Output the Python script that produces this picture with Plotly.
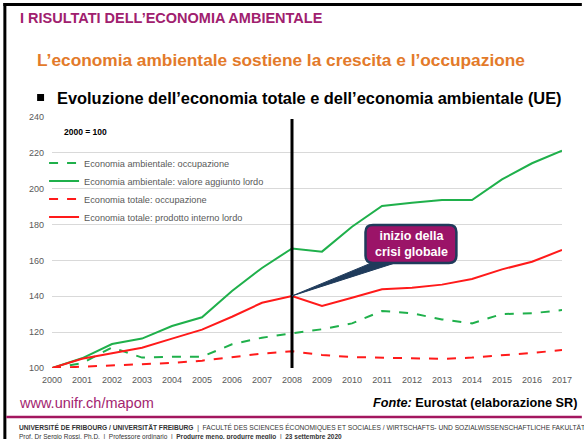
import plotly.graph_objects as go

years = list(range(2000, 2018))
amb_occ = [100, 102.6, 111.5, 105.8, 106.3, 106.3, 113.2, 116.9, 119.3, 121.6, 124.9, 131.8, 130.5, 127.1, 124.9, 130.1, 130.5, 132.3]
amb_val = [100, 105.4, 113.4, 116.4, 123.4, 128.3, 143.0, 155.8, 166.7, 164.9, 178.8, 190.4, 192.2, 193.7, 193.7, 205.2, 214.2, 221.2]
tot_occ = [100, 100.7, 101.3, 102.0, 102.8, 104.1, 106.1, 108.0, 109.3, 107.3, 106.1, 105.8, 105.2, 105.1, 105.8, 106.9, 108.4, 110.0]
tot_pil = [100, 105.2, 108.2, 111.3, 116.4, 121.4, 128.6, 136.4, 140.2, 134.6, 139.2, 143.9, 144.8, 146.5, 149.6, 155.0, 159.3, 165.8]

names = ["Economia ambientale: occupazione",
         "Economia ambientale: valore aggiunto lordo",
         "Economia totale: occupazione",
         "Economia totale: prodotto interno lordo"]

GREEN = "#1FB04B"
RED = "#FF1A1A"
W, H = 584, 439
L, R, T, B = 52, 18, 117, 71
PW, PH = W - L - R, H - T - B

def xp(px):
    return (px - L) / PW

def yp(py):
    return (H - B - py) / PH

FONT = "Liberation Sans, Arial, sans-serif"
legend_ids = ["legend", "legend2", "legend3", "legend4"]
legend_rows = [163, 181, 199, 217]

fig = go.Figure()
series = [(amb_occ, GREEN, "dash"), (amb_val, GREEN, "solid"), (tot_occ, RED, "dash"), (tot_pil, RED, "solid")]
for i, (vals, col, dash) in enumerate(series):
    fig.add_trace(go.Scatter(x=years, y=vals, name=names[i], mode="lines", legend=legend_ids[i],
                             line=dict(color=col, width=2, dash=dash)))

shapes = []
# vertical crisis line
shapes.append(dict(type="line", xref="x", yref="paper", x0=2008, x1=2008, y0=0, y1=yp(119),
                   line=dict(color="black", width=3)))
# wedge pointer
shapes.append(dict(type="path", xref="x", yref="y",
                   path="M 2008,140.2 L 2010.85,160 L 2011.7,160 Z",
                   fillcolor="#1F3B5B", line=dict(color="#1F3B5B", width=1)))
# rounded callout box
x0, x1, y0, y1 = 2010.45, 2013.48, 158.6, 179.8
rx, ry = 0.25, 4.0
path = (f"M {x0+rx},{y0} L {x1-rx},{y0} Q {x1},{y0} {x1},{y0+ry} "
        f"L {x1},{y1-ry} Q {x1},{y1} {x1-rx},{y1} L {x0+rx},{y1} "
        f"Q {x0},{y1} {x0},{y1-ry} L {x0},{y0+ry} Q {x0},{y0} {x0+rx},{y0} Z")
shapes.append(dict(type="path", xref="x", yref="y", path=path,
                   fillcolor="#9B1468", line=dict(color="#1F3B5B", width=2.5)))
# slide borders
shapes.append(dict(type="line", xref="paper", yref="paper", x0=xp(4.5), x1=xp(4.5), y0=yp(H + 2), y1=yp(3),
                   line=dict(color="black", width=3)))
shapes.append(dict(type="line", xref="paper", yref="paper", x0=xp(3), x1=xp(W + 2), y0=yp(4.5), y1=yp(4.5),
                   line=dict(color="black", width=3)))
# magenta separator
shapes.append(dict(type="line", xref="paper", yref="paper", x0=xp(6), x1=xp(W + 2), y0=yp(417), y1=yp(417),
                   line=dict(color="#A3175F", width=2.5)))
# bullet square
shapes.append(dict(type="rect", xref="paper", yref="paper", x0=xp(37), x1=xp(44), y0=yp(101), y1=yp(94),
                   fillcolor="black", line=dict(width=0)))

ann = []
def text(px, py, s, size, color, bold=False, anchor="left", family=FONT):
    ann.append(dict(xref="paper", yref="paper", x=xp(px), y=yp(py), text=s, showarrow=False,
                    xanchor=anchor, yanchor="middle",
                    font=dict(size=size, color=color, family=family,
                              weight="bold" if bold else "normal")))

text(18, 18, "I RISULTATI DELL’ECONOMIA AMBIENTALE", 14.5, "#A0206E", bold=True)
text(35, 60, "L’economia ambientale sostiene la crescita e l’occupazione", 17.3, "#E37A2A", bold=True)
text(55, 98, "Evoluzione dell’economia totale e dell’economia ambientale (UE)", 16.4, "black", bold=True)
text(62, 132, "2000 = 100", 8.5, "black", bold=True)
text(17, 403, "www.unifr.ch/mapom", 14.5, "#A3246F")
ann.append(dict(xref="paper", yref="paper", x=xp(583), y=yp(403),
                text="<i>Fonte:</i> Eurostat (elaborazione SR)", showarrow=False,
                xanchor="right", yanchor="middle",
                font=dict(size=12.7, color="black", family=FONT, weight="bold")))
text(17, 427, "<b>UNIVERSITÉ DE FRIBOURG / UNIVERSITÄT FREIBURG</b>  |  FACULTÉ DES SCIENCES ÉCONOMIQUES ET SOCIALES / WIRTSCHAFTS- UND SOZIALWISSENSCHAFTLICHE FAKULTÄT",
     6.65, "#333333")
text(17, 437, "Prof. Dr Sergio Rossi, Ph.D.  |  Professore ordinario  |  <b>Produrre meno, produrre meglio</b>  |  <b>23 settembre 2020</b>",
     6.5, "#333333")
# callout text
ann.append(dict(xref="x", yref="y", x=2011.97, y=169.2, text="inizio della<br>crisi globale",
                showarrow=False, xanchor="center", yanchor="middle",
                font=dict(size=12.5, color="white", family=FONT, weight="bold")))

legend_style = dict(xanchor="left", yanchor="middle", bgcolor="rgba(0,0,0,0)",
                    font=dict(size=9.2, color="#595959", family=FONT), itemwidth=30)
legends = {lid: dict(x=xp(44), y=yp(row), **legend_style) for lid, row in zip(legend_ids, legend_rows)}

fig.update_layout(
    width=W, height=H,
    margin=dict(l=L, r=R, t=T, b=B),
    paper_bgcolor="white", plot_bgcolor="white",
    shapes=shapes, annotations=ann,
    showlegend=True,
    xaxis=dict(range=[2000, 2017], tickmode="array", tickvals=years, ticktext=[str(y) for y in years],
               showgrid=False, zeroline=False, showline=False, ticks="", ticklabelstandoff=5,
               tickfont=dict(size=9, color="#595959", family=FONT)),
    yaxis=dict(range=[100, 240], tickmode="array", tickvals=list(range(100, 241, 20)),
               showgrid=True, gridcolor="#D9D9D9", gridwidth=1, zeroline=False, showline=False, ticks="",
               ticklabelstandoff=7,
               tickfont=dict(size=9, color="#595959", family=FONT)),
    **legends,
)
fig.write_html("out.html", config={"displayModeBar": False},
               post_script="document.body.style.margin='0';document.body.style.overflow='hidden';")
